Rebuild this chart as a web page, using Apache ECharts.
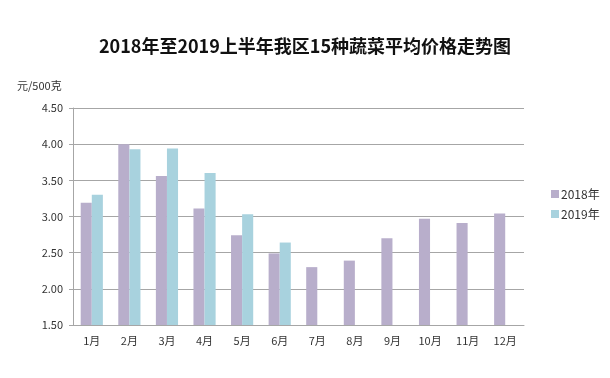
<!DOCTYPE html>
<html>
<head>
<meta charset="utf-8">
<script src="https://cdn.jsdelivr.net/npm/echarts@6/dist/echarts.min.js"></script>
<style>
  html, body { margin: 0; padding: 0; background: #fff; }
  #main { width: 610px; height: 378px; }
</style>
</head>
<body>
<div id="main"></div>
<script>
  // 月份
  var months = ['1月', '2月', '3月', '4月', '5月', '6月', '7月', '8月', '9月', '10月', '11月', '12月'];
  // 2018年 平均价格
  var price2018 = [3.19, 4.00, 3.56, 3.11, 2.74, 2.49, 2.30, 2.39, 2.70, 2.97, 2.91, 3.04];
  // 2019年 上半年
  var price2019 = [3.30, 3.93, 3.94, 3.60, 3.03, 2.64, null, null, null, null, null, null];
  var seriesNames = ['2018年', '2019年'];

  var font = '"Noto Sans CJK SC", "DejaVu Sans", sans-serif';
  var myChart = echarts.init(document.getElementById('main'));
  myChart.setOption({
    animation: false,
    title: {
      text: '2018年至2019上半年我区15种蔬菜平均价格走势图',
      left: 'center',
      top: 32,
      textStyle: {
        fontFamily: font,
        fontWeight: 'bold',
        fontSize: 18,
        color: '#111'
      }
    },
    legend: {
      orient: 'vertical',
      left: 546,
      top: 183,
      itemWidth: 8,
      itemHeight: 8,
      itemGap: 8,
      icon: 'rect',
      textStyle: {
        fontFamily: font,
        fontSize: 12,
        color: '#333',
        padding: [0, 0, 0, -3]
      },
      data: seriesNames
    },
    grid: {
      left: 73,
      right: 86,
      top: 108,
      bottom: 53
    },
    xAxis: {
      type: 'category',
      data: months,
      axisLine: { lineStyle: { color: '#a6a6a6', width: 1 } },
      axisTick: { show: false },
      axisLabel: {
        fontFamily: font,
        fontSize: 11,
        color: '#333',
        margin: 10
      }
    },
    yAxis: {
      type: 'value',
      name: '元/500克',
      nameLocation: 'end',
      nameGap: 17,
      nameTextStyle: {
        fontFamily: font,
        fontSize: 11,
        color: '#333',
        align: 'left',
        padding: [0, 0, 0, -56]
      },
      min: 1.5,
      max: 4.5,
      interval: 0.5,
      axisLine: { show: true, lineStyle: { color: '#a6a6a6' } },
      axisTick: { show: true, length: 4, lineStyle: { color: '#a6a6a6' } },
      splitLine: { lineStyle: { color: '#a6a6a6', width: 1 } },
      axisLabel: {
        fontFamily: font,
        fontSize: 11,
        color: '#333',
        margin: 10,
        formatter: function (v) { return v.toFixed(2); }
      }
    },
    series: [
      {
        name: seriesNames[0],
        type: 'bar',
        barGap: '0%',
        barCategoryGap: '41%',
        itemStyle: { color: '#b8aecb' },
        data: price2018
      },
      {
        name: seriesNames[1],
        type: 'bar',
        itemStyle: { color: '#a8d2de' },
        data: price2019
      }
    ]
  });
</script>
</body>
</html>
